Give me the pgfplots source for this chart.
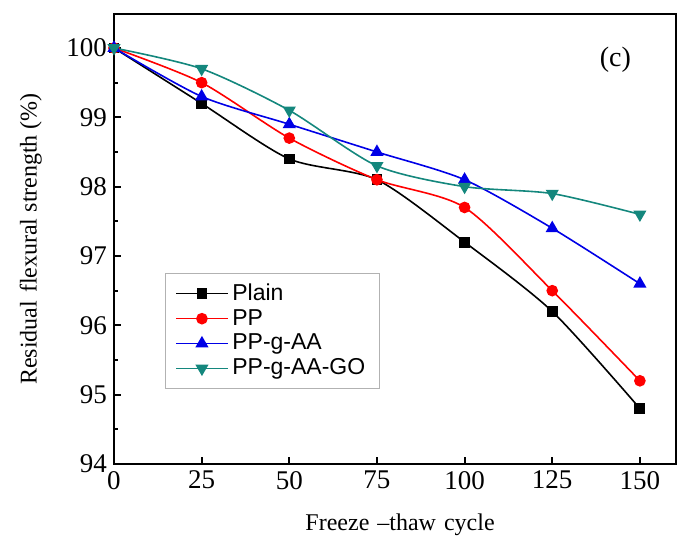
\documentclass[border=0pt]{standalone}
\usepackage{fontspec}
\setmainfont{Liberation Serif}
\newfontfamily\arialfont{Liberation Sans}
\usepackage{pgfplots}
\pgfplotsset{compat=1.18}

\definecolor{cplain}{RGB}{0,0,0}
\definecolor{cpp}{RGB}{255,0,0}
\definecolor{cppaa}{RGB}{0,0,230}
\definecolor{cppgo}{RGB}{20,135,125}

\begin{document}
\begin{tikzpicture}
\begin{axis}[
  name=ax,
  scale only axis,
  width=281pt, height=225pt,
  xmin=0, xmax=160.3,
  ymin=94, ymax=100.49,
  xtick={0,25,50,75,100,125,150},
  ytick={94,95,96,97,98,99,100},
  minor y tick num=1,
  tick align=inside,
  xtick pos=bottom, ytick pos=left,
  major tick length=3.5pt, minor tick length=2pt,
  axis line style={line width=1.3pt},
  every tick/.style={black, line width=1pt},
  tick label style={font=\fontsize{13.5}{13.5}\selectfont},
  /pgf/number format/assume math mode=true,
  xlabel={Freeze\,\,–thaw\,\,cycle},
  ylabel={Residual\,\,flexural strength (\%)},
  label style={font=\fontsize{12}{12}\selectfont},
  xlabel style={at={(axis description cs:0.509,-0.136)}, anchor=center},
  ylabel style={at={(axis description cs:-0.148,0.5)}, anchor=center},
  legend style={at={(0.091,0.424)}, anchor=north west, draw=gray!60,
    font=\arialfont\fontsize{11.5}{14}\selectfont, row sep=-1pt,
    inner xsep=5pt, inner ysep=3pt},
  legend cell align=left,
  legend image code/.code={\draw[mark repeat=2,mark phase=2]
    plot coordinates {(0cm,0cm)(0.45cm,0cm)(0.9cm,0cm)};},
  every axis plot/.append style={line width=0.8pt, smooth, tension=0.45},
  clip=false,
]
\addplot[color=cplain, mark=square*, mark size=2.3pt] coordinates {
  (0,100) (25,99.2) (50,98.4) (75,98.1) (100,97.2) (125,96.2) (150,94.8)};
\addlegendentry{Plain}
\addplot[color=cpp, mark=*, mark size=2.5pt] coordinates {
  (0,100) (25,99.5) (50,98.7) (75,98.1) (100,97.7) (125,96.5) (150,95.2)};
\addlegendentry{PP}
\addplot[color=cppaa, mark=triangle*, mark size=3pt] coordinates {
  (0,100) (25,99.3) (50,98.9) (75,98.5) (100,98.1) (125,97.4) (150,96.6)};
\addlegendentry{PP-g-AA}
\addplot[color=cppgo, mark=triangle*, mark options={rotate=180}, mark size=3pt] coordinates {
  (0,100) (25,99.7) (50,99.1) (75,98.3) (100,98.0) (125,97.9) (150,97.6)};
\addlegendentry{PP-g-AA-GO}
\node[font=\fontsize{14}{14}\selectfont] at (axis cs:143,99.83) {(c)};
\end{axis}
\pgfresetboundingbox
\path[use as bounding box] ([xshift=-57pt,yshift=-43pt]ax.south west) rectangle ([xshift=2.5pt,yshift=7pt]ax.north east);
\end{tikzpicture}
\end{document}
